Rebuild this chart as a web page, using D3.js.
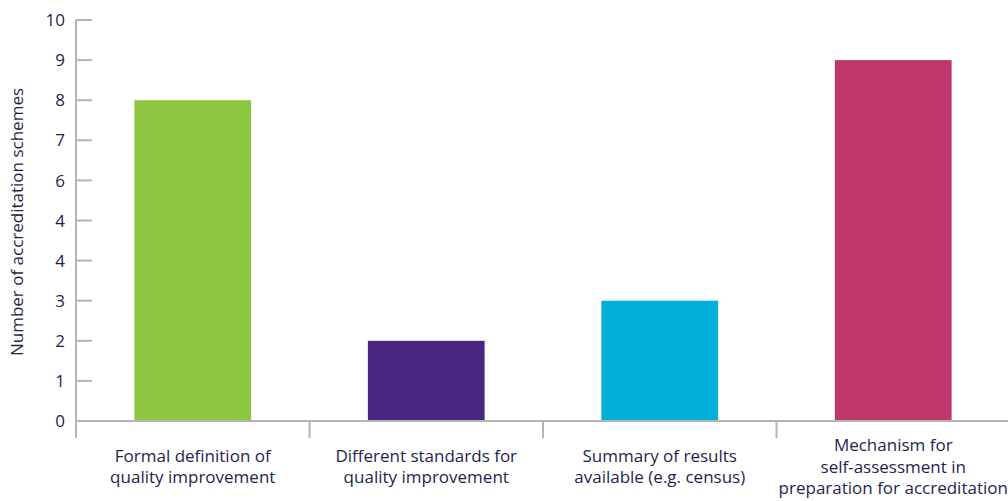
<!DOCTYPE html>
<html>
<head>
<meta charset="utf-8">
<script src="https://cdn.jsdelivr.net/npm/d3@7"></script>
<style>
  html, body { margin: 0; padding: 0; background: #fff; }
  svg text { font-family: "Open Sans", "Noto Sans", sans-serif; fill: #1f1f4d; }
</style>
</head>
<body>
<svg id="chart" width="1008" height="501"></svg>
<script>
// Categories (each label broken into lines), counts and bar colours
const categories = [
  ["Formal definition of", "quality improvement"],
  ["Different standards for", "quality improvement"],
  ["Summary of results", "available (e.g. census)"],
  ["Mechanism for", "self-assessment in", "preparation for accreditation"]
];
const counts = [8, 2, 3, 9];
const barColors = ["#8dc63f", "#4a2682", "#00b0d9", "#bf366b"];
const yTickValues = [0, 1, 2, 3, 4, 5, 6, 7, 8, 9, 10];
const yTickLabels = ["0", "1", "2", "3", "4", "4", "6", "7", "8", "9", "10"];
const yTitle = "Number of accreditation schemes";

const svg = d3.select("#chart");
const plotLeft = 76, plotRight = 1010, plotTop = 20, plotBottom = 421;

const x = d3.scaleBand()
  .domain(d3.range(categories.length))
  .range([plotLeft, plotRight])
  .paddingInner(0.5)
  .paddingOuter(0.25);

const y = d3.scaleLinear().domain([0, 10]).range([plotBottom, plotTop]);

const axisColor = "#b3b3b3";

// Y axis: line plus ticks pointing into the plot
const yAxis = svg.append("g");
yAxis.append("line")
  .attr("x1", plotLeft).attr("x2", plotLeft)
  .attr("y1", y(10)).attr("y2", plotBottom + 17)
  .attr("stroke", axisColor).attr("stroke-width", 2);
yAxis.selectAll("line.tick")
  .data(yTickValues)
  .join("line")
  .attr("class", "tick")
  .attr("x1", plotLeft).attr("x2", plotLeft + 16)
  .attr("y1", d => y(d)).attr("y2", d => y(d))
  .attr("stroke", axisColor).attr("stroke-width", 2);
yAxis.selectAll("text")
  .data(yTickValues)
  .join("text")
  .attr("x", plotLeft - 11)
  .attr("y", d => y(d))
  .attr("dy", "0.36em")
  .attr("text-anchor", "end")
  .attr("font-size", 17)
  .text((d, i) => yTickLabels[i]);

// Bars
svg.append("g").selectAll("rect")
  .data(counts)
  .join("rect")
  .attr("x", (d, i) => x(i))
  .attr("width", x.bandwidth())
  .attr("y", d => y(d))
  .attr("height", d => y(0) - y(d))
  .attr("fill", (d, i) => barColors[i]);

// X axis: baseline and category dividers
const step = x.step();
const xAxis = svg.append("g");
xAxis.append("line")
  .attr("x1", plotLeft).attr("x2", plotRight)
  .attr("y1", plotBottom).attr("y2", plotBottom)
  .attr("stroke", axisColor).attr("stroke-width", 2);
xAxis.selectAll("line.div")
  .data(d3.range(categories.length + 1))
  .join("line")
  .attr("class", "div")
  .attr("x1", i => x(0) - step * 0.25 + i * step)
  .attr("x2", i => x(0) - step * 0.25 + i * step)
  .attr("y1", plotBottom).attr("y2", plotBottom + 17)
  .attr("stroke", axisColor).attr("stroke-width", 2);

// Category labels, each block centred vertically under the axis
const lineGap = 21.5, labelMid = 472.5;
const labels = svg.append("g").selectAll("text")
  .data(categories)
  .join("text")
  .attr("text-anchor", "middle")
  .attr("font-size", 17);
labels.selectAll("tspan")
  .data((d, i) => d.map(line => ({ line, i, n: d.length })))
  .join("tspan")
  .attr("x", d => x(d.i) + x.bandwidth() / 2)
  .attr("y", (d, j) => labelMid - (d.n - 1) * lineGap / 2 + j * lineGap)
  .text(d => d.line);

// Y axis title
svg.append("text")
  .attr("transform", `translate(23, 222) rotate(-90)`)
  .attr("text-anchor", "middle")
  .attr("font-size", 17)
  .text(yTitle);
</script>
</body>
</html>
